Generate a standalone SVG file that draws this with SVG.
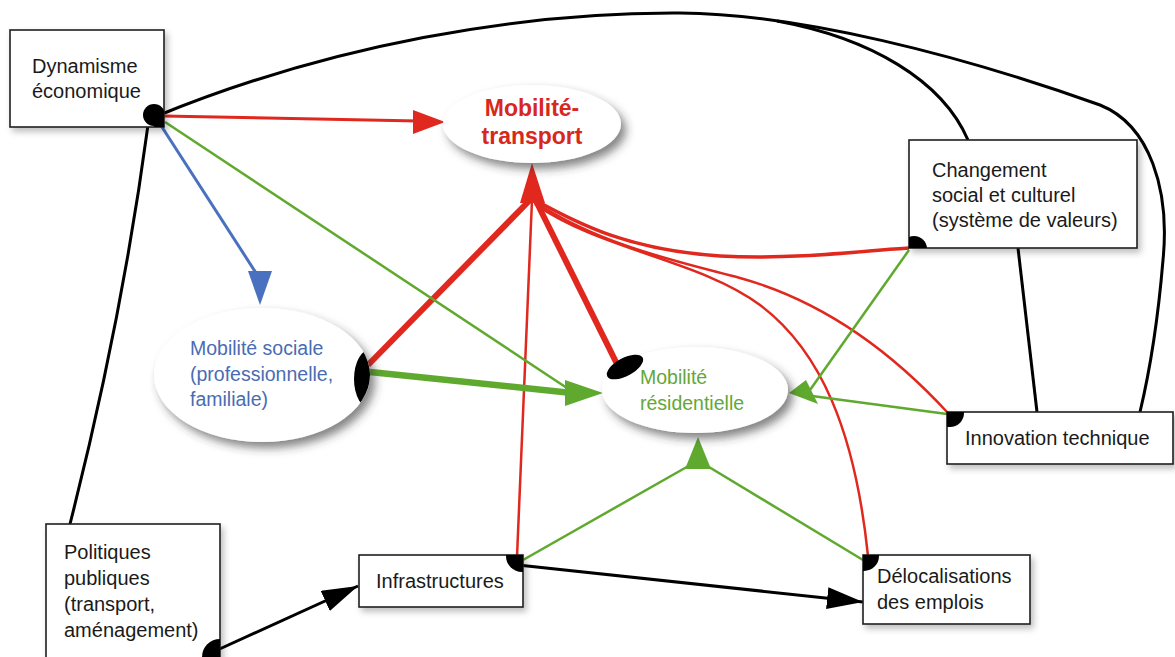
<svg xmlns="http://www.w3.org/2000/svg" width="1175" height="657" viewBox="0 0 1175 657">
<style>
.box{fill:#fff;stroke:#1e1e1e;stroke-width:1.6;filter:url(#bsh)}
.ell{fill:#fff;filter:url(#esh)}
.t{font-family:"Liberation Sans",Arial,sans-serif;font-size:20px;fill:#1a1a1a}
.te{font-family:"Liberation Sans",Arial,sans-serif;font-size:19.5px}
.tb{font-family:"Liberation Sans",Arial,sans-serif;font-size:23px;font-weight:bold;fill:#d8271d}
.dot{fill:#000}
.k{fill:none;stroke:#000;stroke-width:3}
.r{fill:none;stroke:#e0281e}
.g{fill:none;stroke:#5fa92e}
.b{fill:none;stroke:#4a70c0;stroke-width:3}
.rf{fill:#e0281e}
.gf{fill:#5fa92e}
.bf{fill:#4a70c0}
.kf{fill:#000}
</style>
<defs>
<filter id="bsh" x="-20%" y="-20%" width="140%" height="150%"><feDropShadow dx="3" dy="4" stdDeviation="3" flood-color="#000" flood-opacity="0.25"/></filter>
<filter id="esh" x="-20%" y="-30%" width="145%" height="170%"><feDropShadow dx="5" dy="6" stdDeviation="5" flood-color="#333" flood-opacity="0.6"/></filter>
<clipPath id="cDyn"><rect x="10" y="30" width="154" height="97"/></clipPath>
<clipPath id="cChg"><rect x="909" y="140" width="228" height="108"/></clipPath>
<clipPath id="cInn"><rect x="947" y="412" width="226" height="52"/></clipPath>
<clipPath id="cPol"><rect x="46" y="524" width="174" height="140"/></clipPath>
<clipPath id="cInf"><rect x="359" y="555" width="164" height="52"/></clipPath>
<clipPath id="cDel"><rect x="863" y="555" width="167" height="69"/></clipPath>
<clipPath id="cSoc"><ellipse cx="262" cy="375" rx="108" ry="67"/></clipPath>
<marker id="mk" markerUnits="userSpaceOnUse" viewBox="0 0 36 22" refX="36" refY="11" markerWidth="36" markerHeight="22" orient="auto"><path d="M0,0 L36,11 L0,22 Z" fill="#000"/></marker>
</defs>
<rect width="1175" height="657" fill="#fff"/>

<g id="connectors">
  <!-- black -->
  <path class="k" d="M157,116 C330,45 520,12 680,13 C800,14 960,55 1100,105 C1150,125 1170,190 1163,260 C1158,320 1150,370 1140,412"/>
  <path class="k" d="M777,21 C870,38 942,80 968,140"/>
  <path class="k" d="M148,125 Q122,320 70,524"/>
  <path class="k" d="M1018,248 L1037,412"/>
  <path class="k" d="M213,652 L358,586" marker-end="url(#mk)"/>
  <path class="k" d="M518,565 L863,602" marker-end="url(#mk)"/>
  <!-- red -->
  <path class="r" stroke-width="3" d="M163,116 L418,121"/>
  <polygon class="rf" points="445,122 413,110 413,134"/>
  <path class="r" stroke-width="6" d="M368,365 L529,201"/>
  <path class="r" stroke-width="6" d="M618,366 L536,201"/>
  <path class="r" stroke-width="2.5" d="M517,557 L532,200"/>
  <path class="r" stroke-width="3.5" d="M535,200 C580,225 630,250 720,256 C800,260 870,250 909,248"/>
  <path class="r" stroke-width="2.5" d="M535,202 C600,245 680,262 740,278 C820,300 890,350 948,413"/>
  <path class="r" stroke-width="2.5" d="M535,204 C600,250 700,260 760,305 C820,350 855,430 868,556"/>
  <polygon class="rf" points="532,163 520,203 545,203"/>
  <!-- blue -->
  <path class="b" d="M160,124 L258,276"/>
  <polygon class="bf" points="260,305 248,271 272,271"/>
  <!-- green -->
  <path class="g" stroke-width="2.5" d="M165,122 L576,394"/>
  <path class="g" stroke-width="6.5" d="M370,372 L572,393"/>
  <polygon class="gf" points="603,393 565,380 565,406"/>
  <path class="g" stroke-width="2.5" d="M909,250 L810,390"/>
  <path class="g" stroke-width="2.5" d="M947,414 L812,396"/>
  <polygon class="gf" points="789,393 806,380 818,404"/>
  <path class="g" stroke-width="2.5" d="M523,560 L692,464"/>
  <path class="g" stroke-width="2.5" d="M863,560 L704,464"/>
  <polygon class="gf" points="698,437 685,469 711,469"/>
</g>

<g id="dynamisme">
  <rect class="box" x="10" y="30" width="154" height="97"/>
  <text class="t" x="32" y="73">Dynamisme</text>
  <text class="t" x="32" y="98">économique</text>
  <g clip-path="url(#cDyn)"><circle class="dot" cx="154" cy="115" r="11"/><rect class="dot" x="154" y="115" width="10" height="12"/></g>
</g>

<g id="mobilite-transport">
  <ellipse class="ell" cx="532" cy="124" rx="89" ry="39"/>
  <text class="tb" x="532" y="116" text-anchor="middle">Mobilité-</text>
  <text class="tb" x="532" y="144" text-anchor="middle">transport</text>
</g>

<g id="changement">
  <rect class="box" x="909" y="140" width="228" height="108"/>
  <text class="t" x="932" y="177">Changement</text>
  <text class="t" x="932" y="202">social et culturel</text>
  <text class="t" x="932" y="227">(système de valeurs)</text>
  <g clip-path="url(#cChg)"><circle class="dot" cx="914" cy="249" r="13"/></g>
</g>

<g id="mobilite-sociale">
  <ellipse class="ell" cx="262" cy="375" rx="108" ry="67"/>
  <text class="te" x="190" y="355" fill="#4a6cb3">Mobilité sociale</text>
  <text class="te" x="190" y="381" fill="#4a6cb3">(professionnelle,</text>
  <text class="te" x="190" y="406" fill="#4a6cb3">familiale)</text>
  <g clip-path="url(#cSoc)"><ellipse class="dot" cx="371" cy="379" rx="17" ry="30"/></g>
</g>

<g id="mobilite-residentielle">
  <ellipse class="ell" cx="695" cy="390" rx="93" ry="43"/>
  <text class="te" x="640" y="384" fill="#62a83a">Mobilité</text>
  <text class="te" x="640" y="410" fill="#62a83a">résidentielle</text>
  <ellipse class="dot" cx="625" cy="367" rx="20" ry="9" transform="rotate(-28 625 367)"/>
</g>

<g id="innovation">
  <rect class="box" x="947" y="412" width="226" height="52"/>
  <text class="t" x="965" y="445">Innovation technique</text>
  <g clip-path="url(#cInn)"><circle class="dot" cx="950" cy="413" r="14"/></g>
</g>

<g id="politiques">
  <rect class="box" x="46" y="524" width="174" height="140"/>
  <text class="t" x="64" y="559">Politiques</text>
  <text class="t" x="64" y="585">publiques</text>
  <text class="t" x="64" y="611">(transport,</text>
  <text class="t" x="64" y="637">aménagement)</text>
  <g clip-path="url(#cPol)"><circle class="dot" cx="220" cy="657" r="18"/></g>
</g>

<g id="infrastructures">
  <rect class="box" x="359" y="555" width="164" height="52"/>
  <text class="t" x="376" y="588">Infrastructures</text>
  <g clip-path="url(#cInf)"><circle class="dot" cx="522" cy="556" r="16"/></g>
</g>

<g id="delocalisations">
  <rect class="box" x="863" y="555" width="167" height="69"/>
  <text class="t" x="877" y="583">Délocalisations</text>
  <text class="t" x="877" y="609">des emplois</text>
  <g clip-path="url(#cDel)"><circle class="dot" cx="864" cy="556" r="15"/></g>
</g>
</svg>
